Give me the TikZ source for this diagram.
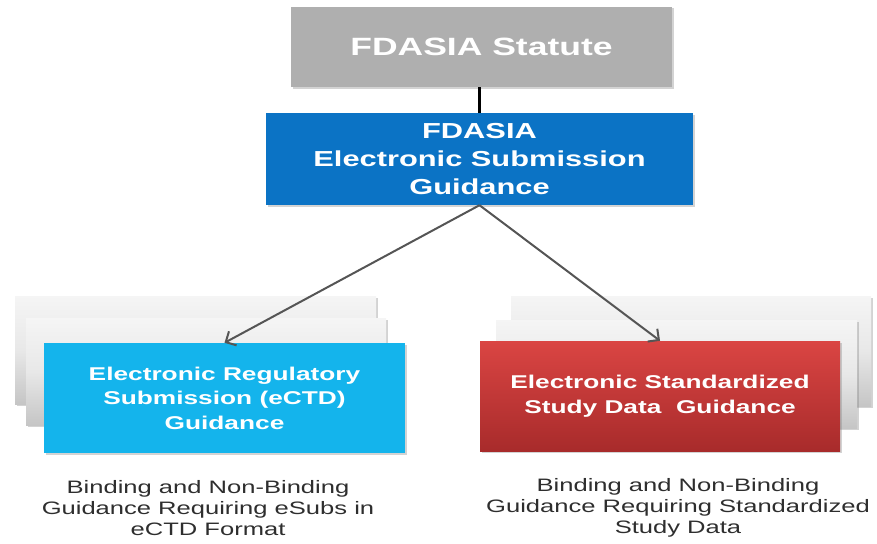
\documentclass[tikz,border=0pt]{standalone}
\usepackage{fontspec}
\setmainfont{Liberation Sans}
\newfontfamily\widefont[FakeStretch=1.42]{Liberation Sans}
\usetikzlibrary{arrows.meta,shadows}
\definecolor{statgray}{HTML}{AFAFAF}
\definecolor{fdablue}{HTML}{0B73C5}
\definecolor{ectdcyan}{HTML}{14B4EC}
\definecolor{redtop}{HTML}{DA4543}
\definecolor{redbot}{HTML}{A82B2B}
\definecolor{backgray}{HTML}{E8E8E8}
\definecolor{labelgray}{HTML}{2E2E2E}
\definecolor{arrowgray}{HTML}{555555}
\tikzset{
  box/.style={rectangle, draw=none, inner sep=0pt, align=center, text=white,
    drop shadow={shadow xshift=1.5pt, shadow yshift=-1.5pt, opacity=0.35}},
  backbox/.style={box, top color=white!96!black, bottom color=backgray!85!black, middle color=backgray},
  lab/.style={align=center, text=labelgray, font=\widefont\fontsize{18}{21}\selectfont, inner sep=0pt},
  conn/.style={draw=arrowgray, line width=2pt, -{Straight Barb[length=8pt,width=16pt,line width=2pt]}}
}
\begin{document}
\begin{tikzpicture}[x=1pt,y=-1pt]
\useasboundingbox (0,0) rectangle (877,543);
% top
\node[box, fill=statgray, minimum width=381pt, minimum height=80pt,
  font=\widefont\bfseries\fontsize{25}{30}\selectfont] (stat) at (481.5,47) {FDASIA Statute};
\node[box, fill=fdablue, minimum width=427pt, minimum height=92pt,
  font=\widefont\bfseries\fontsize{21.7}{28}\selectfont] (guid) at (479.5,159)
  {FDASIA\\Electronic Submission\\Guidance};
\draw[black, line width=2.2pt] (guid.north) -- (guid.north |- stat.south);
% left stack
\node[backbox, minimum width=361pt, minimum height=108pt] (lb1) at (195.5,350) {};
\node[backbox, minimum width=360pt, minimum height=107pt] (lb2) at (206,371.5) {};
\node[box, fill=ectdcyan, minimum width=361pt, minimum height=110pt,
  font=\widefont\bfseries\fontsize{18.5}{24.5}\selectfont] (ectd) at (224.5,398)
  {Electronic Regulatory\\Submission (eCTD)\\Guidance};
% right stack
\node[backbox, minimum width=360pt, minimum height=110pt] (rb1) at (691,351) {};
\node[backbox, minimum width=361pt, minimum height=108pt] (rb2) at (676.5,374) {};
\node[box, top color=redtop, bottom color=redbot, minimum width=360pt, minimum height=110pt,
  font=\widefont\bfseries\fontsize{18.5}{24.5}\selectfont] (sdata) at (660,396)
  {Electronic Standardized\\Study Data\ \ Guidance};
% connectors
\draw[conn] (guid.south) -- (ectd.north);
\draw[conn] (guid.south) -- (sdata.north);
% labels
\node[lab] (llab) at (208,508) {Binding and Non-Binding\\Guidance Requiring eSubs in\\eCTD Format};
\node[lab] (rlab) at (678,508) {Binding and Non-Binding\\Guidance Requiring Standardized\\Study Data};
\end{tikzpicture}
\end{document}
